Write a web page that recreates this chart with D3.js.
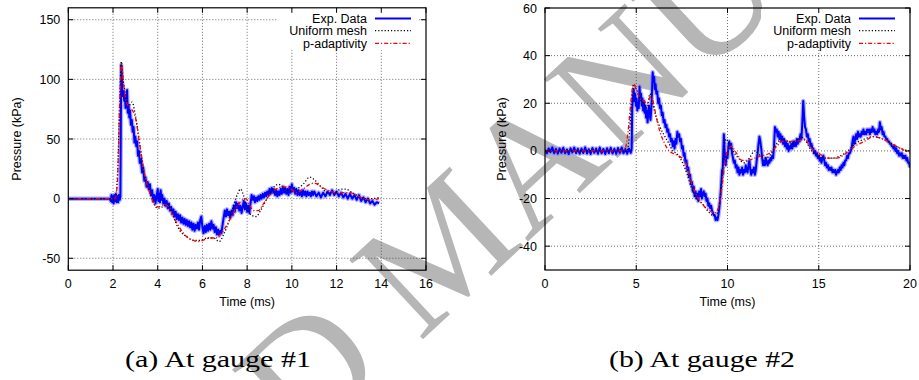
<!DOCTYPE html>
<html>
<head>
<meta charset="utf-8">
<script src="https://cdn.jsdelivr.net/npm/d3@7"></script>
<style>
  body { margin: 0; background: #fff; }
  svg { display: block; font-family: "Liberation Sans", Arial, Helvetica, sans-serif; }
</style>
</head>
<body>
<svg id="chart" width="919" height="380"></svg>
<script>
// ---- data (time ms, pressure kPa) ----
var seriesNames = ["Exp. Data", "Uniform mesh", "p-adaptivity"];
var captions = ["(a) At gauge #1", "(b) At gauge #2"];

var g1XTicks = [0, 2, 4, 6, 8, 10, 12, 14, 16];
var g1YTicks = [-50, 0, 50, 100, 150];
var g2XTicks = [0, 5, 10, 15, 20];
var g2YTicks = [-40, -20, 0, 20, 40, 60];

var g1Exp = [[0,0],[1.85,0],[1.9,-2],[1.93,3],[1.96,-3],[2.0,2],[2.03,-4],[2.06,3],[2.1,-2],[2.13,4],[2.16,-3],[2.2,2],[2.23,-3],[2.26,3],[2.3,-1],[2.33,2],[2.35,60],[2.37,112],[2.39,105],[2.41,92],[2.44,86],[2.47,90],[2.5,82],[2.53,87],[2.56,76],[2.6,82],[2.63,91],[2.66,72],[2.7,78],[2.73,68],[2.76,74],[2.8,62],[2.84,66],[2.88,56],[2.92,60],[2.96,47],[3.0,52],[3.04,44],[3.08,48],[3.12,36],[3.16,40],[3.2,30],[3.25,33],[3.3,22],[3.35,26],[3.4,15],[3.45,18],[3.5,10],[3.55,14],[3.6,8],[3.65,12],[3.7,3],[3.75,7],[3.8,-2],[3.85,3],[3.9,-4],[3.95,2],[4.0,8],[4.03,-2],[4.07,4],[4.1,-3],[4.13,7],[4.17,-1],[4.2,3],[4.25,-4],[4.3,0],[4.35,-6],[4.4,-2],[4.45,-8],[4.5,-4],[4.55,-10],[4.6,-7],[4.65,-13],[4.7,-9],[4.75,-15],[4.8,-11],[4.85,-17],[4.9,-13],[4.95,-18],[5.0,-14],[5.05,-20],[5.1,-16],[5.15,-21],[5.2,-17],[5.25,-22],[5.3,-18],[5.35,-23],[5.4,-19],[5.45,-24],[5.5,-20],[5.55,-26],[5.6,-21],[5.65,-27],[5.7,-22],[5.75,-25],[5.8,-20],[5.85,-26],[5.9,-18],[5.95,-15],[6.0,-24],[6.05,-29],[6.1,-23],[6.15,-28],[6.2,-22],[6.25,-27],[6.3,-21],[6.35,-26],[6.4,-19],[6.45,-25],[6.5,-22],[6.55,-28],[6.6,-24],[6.65,-30],[6.7,-26],[6.75,-31],[6.8,-27],[6.85,-29],[6.9,-22],[6.95,-16],[7.0,-10],[7.05,-15],[7.1,-9],[7.15,-14],[7.2,-11],[7.25,-16],[7.3,-10],[7.35,-14],[7.4,-6],[7.45,-11],[7.5,-3],[7.55,-8],[7.6,-4],[7.65,-10],[7.7,-6],[7.75,-12],[7.8,-7],[7.85,-2],[7.9,-9],[7.95,-4],[8.0,-11],[8.05,-6],[8.1,-12],[8.15,-4],[8.2,3],[8.25,-1],[8.3,2],[8.35,-3],[8.4,1],[8.45,-2],[8.5,2],[8.55,-1],[8.6,3],[8.65,0],[8.7,4],[8.75,1],[8.8,5],[8.85,2],[8.9,6],[8.95,3],[9.0,8],[9.05,4],[9.1,9],[9.15,5],[9.2,8],[9.25,3],[9.3,7],[9.35,2],[9.4,6],[9.45,3],[9.5,8],[9.55,4],[9.6,10],[9.65,5],[9.7,9],[9.75,4],[9.8,8],[9.85,3],[9.9,10],[9.95,5],[10.0,12],[10.05,6],[10.1,9],[10.15,4],[10.2,8],[10.25,3],[10.3,7],[10.35,3],[10.4,6],[10.45,2],[10.5,7],[10.55,3],[10.6,6],[10.65,2],[10.7,6],[10.75,3],[10.8,5],[10.85,2],[10.9,6],[10.95,3],[11.0,6],[11.1,2],[11.2,5],[11.3,1],[11.4,5],[11.5,2],[11.6,6],[11.7,3],[11.8,7],[11.9,3],[12.0,6],[12.1,2],[12.2,5],[12.3,1],[12.4,4],[12.5,0],[12.6,4],[12.7,0],[12.8,3],[12.9,-1],[13.0,3],[13.1,-2],[13.2,1],[13.3,-3],[13.4,0],[13.5,-4],[13.6,-2],[13.7,-5],[13.8,-3],[13.9,-4]];

var g1Uniform = [[0,0],[2.1,0],[2.2,20],[2.3,80],[2.37,115],[2.45,100],[2.55,88],[2.7,78],[2.85,81],[3.0,70],[3.2,45],[3.4,20],[3.55,10],[3.7,3],[3.85,-5],[4.0,-8],[4.2,-7],[4.4,-5],[4.6,-10],[4.8,-20],[5.0,-27],[5.3,-32],[5.6,-35],[5.9,-35],[6.2,-33],[6.5,-33],[6.75,-36],[6.95,-30],[7.2,-18],[7.4,-5],[7.6,5],[7.7,8],[7.85,2],[8.0,-8],[8.2,-14],[8.4,-15],[8.6,-10],[8.8,-3],[9.0,3],[9.2,10],[9.4,12],[9.6,10],[9.8,7],[10.0,6],[10.2,8],[10.5,12],[10.8,18],[11.0,16],[11.3,10],[11.6,5],[11.9,5],[12.2,8],[12.4,8],[12.7,5],[13.0,2],[13.3,0],[13.6,0],[13.9,1]];

var g1Padapt = [[0,0],[2.1,0],[2.2,15],[2.3,80],[2.38,113],[2.45,100],[2.55,85],[2.7,77],[2.9,73],[3.0,68],[3.2,45],[3.4,22],[3.55,10],[3.7,2],[3.85,-5],[4.0,-7],[4.3,-5],[4.5,-7],[4.7,-15],[5.0,-25],[5.3,-32],[5.6,-35],[5.8,-36],[6.0,-35],[6.3,-33],[6.6,-33],[6.8,-30],[7.0,-25],[7.3,-15],[7.6,-5],[7.8,-1],[7.95,0],[8.1,-5],[8.3,-10],[8.5,-10],[8.7,-5],[9.0,3],[9.3,8],[9.6,10],[9.9,9],[10.2,5],[10.5,8],[10.8,12],[11.0,13],[11.3,10],[11.6,7],[12.0,5],[12.3,5],[12.6,5],[12.9,3],[13.2,0],[13.5,-1],[13.9,0]];

var g2Exp = [[0,0.5],[0.1,-1],[0.2,1],[0.3,-0.5],[0.4,1.5],[0.5,-1],[0.6,0.8],[0.7,-1.2],[0.8,1],[0.9,-0.8],[1.0,1.3],[1.1,-1],[1.2,0.6],[1.3,-1.3],[1.4,1.1],[1.5,-0.7],[1.6,1.4],[1.7,-1],[1.8,0.9],[1.9,-1.2],[2.0,1],[2.1,-0.9],[2.2,1.5],[2.3,-1.1],[2.4,0.7],[2.5,-1.3],[2.6,1.2],[2.7,-0.8],[2.8,1],[2.9,-1.2],[3.0,1.4],[3.1,-1],[3.2,0.8],[3.3,-1.3],[3.4,1.1],[3.5,-0.9],[3.6,1.3],[3.7,-1.1],[3.8,0.9],[3.9,-1.2],[4.0,1.2],[4.1,-0.8],[4.2,1.4],[4.3,-1],[4.4,0.8],[4.5,-1.2],[4.6,1],[4.7,-0.8],[4.75,1],[4.78,18],[4.82,22],[4.86,26],[4.9,21],[4.94,24],[4.98,19],[5.02,22],[5.06,17],[5.1,20],[5.14,18],[5.18,27],[5.22,22],[5.26,24],[5.3,19],[5.34,22],[5.38,17],[5.42,21],[5.46,16],[5.5,19],[5.54,14],[5.58,17],[5.62,12],[5.66,16],[5.7,19],[5.74,15],[5.78,13],[5.82,17],[5.86,24],[5.9,33],[5.94,29],[5.98,31],[6.02,26],[6.06,28],[6.1,24],[6.15,25],[6.2,20],[6.25,22],[6.3,18],[6.35,19],[6.4,15],[6.45,16],[6.5,12],[6.55,13],[6.6,10],[6.65,11],[6.7,8],[6.75,9],[6.8,6],[6.85,7],[6.9,4],[6.95,5],[7.0,2],[7.05,4],[7.1,1],[7.15,5],[7.2,3],[7.25,8],[7.3,6],[7.35,7],[7.4,4],[7.45,5],[7.5,1],[7.55,2],[7.6,-2],[7.65,-1],[7.7,-5],[7.75,-4],[7.8,-8],[7.85,-7],[7.9,-11],[7.95,-10],[8.0,-14],[8.05,-13],[8.1,-17],[8.15,-15],[8.2,-19],[8.25,-17],[8.3,-20],[8.35,-18],[8.4,-21],[8.45,-17],[8.5,-19],[8.55,-16],[8.6,-20],[8.65,-18],[8.7,-17],[8.75,-19],[8.8,-18],[8.85,-21],[8.9,-20],[8.95,-23],[9.0,-22],[9.05,-24],[9.1,-23],[9.15,-25],[9.2,-26],[9.25,-27],[9.3,-27],[9.35,-29],[9.4,-28],[9.45,-29],[9.5,-27],[9.55,-24],[9.6,-20],[9.65,-15],[9.7,-8],[9.73,-10],[9.77,0],[9.8,7],[9.83,2],[9.86,-3],[9.9,-6],[9.95,-1],[10.0,-3],[10.05,2],[10.1,4],[10.15,1],[10.2,3],[10.25,-1],[10.3,-3],[10.35,-5],[10.4,-4],[10.45,-7],[10.5,-6],[10.55,-9],[10.6,-7],[10.65,-10],[10.7,-8],[10.75,-9],[10.8,-7],[10.85,-10],[10.9,-8],[10.95,-9],[11.0,-6],[11.05,-8],[11.1,-9],[11.15,-6],[11.2,-4],[11.25,-8],[11.3,-10],[11.35,-8],[11.4,-9],[11.45,-7],[11.5,-10],[11.55,-8],[11.6,-4],[11.65,-1],[11.7,3],[11.75,6],[11.8,4],[11.85,1],[11.9,-3],[11.95,-6],[12.0,-4],[12.05,-6],[12.1,-3],[12.15,-5],[12.2,-6],[12.25,-4],[12.3,-5],[12.35,-3],[12.4,-4],[12.45,-2],[12.5,-3],[12.55,2],[12.6,10],[12.65,8],[12.7,9],[12.75,6],[12.8,8],[12.85,5],[12.9,7],[12.95,4],[13.0,6],[13.05,3],[13.1,5],[13.15,2],[13.2,4],[13.25,1],[13.3,3],[13.35,0],[13.4,2],[13.45,1],[13.5,3],[13.55,1],[13.6,4],[13.65,2],[13.7,4],[13.75,2],[13.8,5],[13.85,3],[13.9,5],[13.95,4],[14.0,7],[14.05,5],[14.1,12],[14.15,21],[14.2,14],[14.25,10],[14.3,9],[14.35,6],[14.4,7],[14.45,4],[14.5,5],[14.55,2],[14.6,3],[14.65,1],[14.7,1],[14.75,-1],[14.8,0],[14.85,-2],[14.9,-1],[14.95,-3],[15.0,-2],[15.05,-4],[15.1,-3],[15.15,-5],[15.2,-3],[15.25,-2],[15.3,-4],[15.35,-6],[15.4,-5],[15.45,-7],[15.5,-6],[15.55,-8],[15.6,-7],[15.65,-8],[15.7,-7],[15.75,-9],[15.8,-8],[15.85,-9],[15.9,-8],[15.95,-10],[16.0,-9],[16.05,-8],[16.1,-9],[16.15,-7],[16.2,-8],[16.25,-6],[16.3,-7],[16.35,-5],[16.4,-6],[16.45,-4],[16.5,-4],[16.55,-2],[16.6,-3],[16.65,-1],[16.7,-1],[16.75,0],[16.8,1],[16.85,4],[16.9,6],[16.95,3],[17.0,5],[17.05,7],[17.1,5],[17.15,8],[17.2,6],[17.25,7],[17.3,6],[17.35,8],[17.4,7],[17.45,9],[17.5,7],[17.55,8],[17.6,7],[17.65,9],[17.7,8],[17.75,9],[17.8,7],[17.85,9],[17.9,8],[17.95,10],[18.0,8],[18.05,9],[18.1,7],[18.15,8],[18.2,7],[18.25,9],[18.3,8],[18.35,12],[18.4,9],[18.45,10],[18.5,7],[18.55,8],[18.6,6],[18.65,6],[18.7,5],[18.75,5],[18.8,4],[18.85,4],[18.9,3],[18.95,3],[19.0,2],[19.05,2],[19.1,1],[19.15,2],[19.2,0],[19.25,1],[19.3,-1],[19.35,0],[19.4,-2],[19.45,-1],[19.5,-2],[19.55,-1],[19.6,-3],[19.65,-2],[19.7,-3],[19.75,-2],[19.8,-4],[19.85,-3],[19.9,-5],[19.95,-5],[20.0,-7]];

var g2Uniform = [[0,0],[4.5,0],[4.6,5],[4.75,20],[4.85,28],[5.0,26],[5.2,22],[5.4,20],[5.6,18],[5.75,24],[5.9,20],[6.1,14],[6.3,10],[6.5,7],[6.8,3],[7.0,0],[7.2,-1],[7.4,-3],[7.6,-6],[7.8,-10],[8.0,-15],[8.3,-20],[8.6,-22],[8.9,-25],[9.2,-27],[9.45,-26],[9.6,-20],[9.75,-5],[9.9,5],[10.1,3],[10.3,0],[10.6,-3],[10.9,-5],[11.2,-3],[11.5,0],[11.8,-2],[12.1,-3],[12.4,-1],[12.7,3],[13.0,5],[13.3,4],[13.6,3],[14.0,6],[14.3,4],[14.6,0],[15.0,-2],[15.4,-3],[15.8,-3],[16.2,-2],[16.6,0],[17.0,3],[17.5,5],[18.0,6],[18.5,5],[19.0,3],[19.5,1],[20.0,0]];

var g2Padapt = [[0,0],[4.3,0],[4.4,1],[4.55,8],[4.7,20],[4.85,28],[5.0,26],[5.2,22],[5.4,21],[5.6,20],[5.8,23],[5.95,20],[6.1,14],[6.3,8],[6.5,4],[6.8,0],[7.0,-1],[7.3,-2],[7.5,-3],[7.7,-5],[7.9,-10],[8.1,-15],[8.4,-20],[8.7,-23],[9.0,-25],[9.3,-26],[9.5,-24],[9.7,-15],[9.85,-5],[10.0,0],[10.2,2],[10.5,-1],[10.8,-4],[11.1,-4],[11.5,-3],[11.9,-2],[12.3,-1],[12.7,2],[13.0,4],[13.4,4],[13.8,4],[14.2,5],[14.6,1],[15.0,-1],[15.5,-3],[16.0,-3],[16.5,-1],[17.0,2],[17.5,4],[18.0,6],[18.5,5],[19.0,3],[19.5,1],[20.0,-1]];

var svg = d3.select("#chart");

// watermark, under everything
var wm = svg.append("g")
  .attr("transform", "translate(436,252) rotate(-43)");
wm.append("text")
  .attr("x", 11)
  .attr("y", 55)
  .attr("text-anchor", "middle")
  .style("font-family", "'Liberation Serif', 'Times New Roman', serif")
  .style("font-size", "165px")
  .attr("fill", "#b6b6b6")
  .text("ACCEPTED MANUSCRIPT");

var styles = [
  {color: "#0000ff", width: 2, dash: null},
  {color: "#000000", width: 1.3, dash: "1.2,2"},
  {color: "#ff0000", width: 1.3, dash: "4,2,1.2,2"}
];

function drawPanel(p) {
  var x = d3.scaleLinear().domain(p.xDomain).range([p.left, p.right]);
  var y = d3.scaleLinear().domain(p.yDomain).range([p.bottom, p.top]);
  var g = svg.append("g");

  // grid
  g.selectAll(".vgrid")
    .data(p.xTicks.filter(function(t) { return t > p.xDomain[0] && t < p.xDomain[1]; }))
    .enter().append("line")
    .attr("x1", function(d) { return x(d); }).attr("x2", function(d) { return x(d); })
    .attr("y1", p.top).attr("y2", p.bottom)
    .attr("stroke", "#444").attr("stroke-width", 0.8).attr("stroke-dasharray", "1,2");
  g.selectAll(".hgrid")
    .data(p.yTicks.filter(function(t) { return t > p.yDomain[0] && t < p.yDomain[1]; }))
    .enter().append("line")
    .attr("y1", function(d) { return y(d); }).attr("y2", function(d) { return y(d); })
    .attr("x1", p.left).attr("x2", p.right)
    .attr("stroke", "#444").attr("stroke-width", 0.8).attr("stroke-dasharray", "1,2");

  // key area is opaque in gnuplot
  g.append("rect")
    .attr("x", p.right - 149).attr("y", p.top + 1)
    .attr("width", 141).attr("height", 41)
    .attr("fill", "#fff");

  // curves
  var clipId = "clip" + p.id;
  svg.append("clipPath").attr("id", clipId).append("rect")
    .attr("x", p.left).attr("y", p.top)
    .attr("width", p.right - p.left).attr("height", p.bottom - p.top);
  var curves = g.append("g").attr("clip-path", "url(#" + clipId + ")");

  var rough = d3.line().x(function(d) { return x(d[0]); }).y(function(d) { return y(d[1]); });
  var smooth = d3.line().curve(d3.curveMonotoneX)
    .x(function(d) { return x(d[0]); }).y(function(d) { return y(d[1]); });

  // noise band halo under the measured signal
  curves.append("path").attr("d", rough(p.series[0]))
    .attr("fill", "none").attr("stroke", "#7f7fff").attr("stroke-width", 4.5)
    .attr("stroke-linejoin", "round").attr("opacity", 0.6);
  curves.append("path").attr("d", rough(p.series[0]))
    .attr("fill", "none").attr("stroke", styles[0].color).attr("stroke-width", styles[0].width)
    .attr("stroke-linejoin", "round");
  [1, 2].forEach(function(i) {
    curves.append("path").attr("d", smooth(p.series[i]))
      .attr("fill", "none").attr("stroke", styles[i].color)
      .attr("stroke-width", styles[i].width)
      .attr("stroke-dasharray", styles[i].dash);
  });

  // border + inward ticks on all sides
  g.append("rect")
    .attr("x", p.left).attr("y", p.top)
    .attr("width", p.right - p.left).attr("height", p.bottom - p.top)
    .attr("fill", "none").attr("stroke", "#000").attr("stroke-width", 1.2);
  var tl = 5;
  p.xTicks.forEach(function(t) {
    g.append("line").attr("x1", x(t)).attr("x2", x(t)).attr("y1", p.bottom).attr("y2", p.bottom - tl)
      .attr("stroke", "#000").attr("stroke-width", 1);
    g.append("line").attr("x1", x(t)).attr("x2", x(t)).attr("y1", p.top).attr("y2", p.top + tl)
      .attr("stroke", "#000").attr("stroke-width", 1);
  });
  p.yTicks.forEach(function(t) {
    g.append("line").attr("y1", y(t)).attr("y2", y(t)).attr("x1", p.left).attr("x2", p.left + tl)
      .attr("stroke", "#000").attr("stroke-width", 1);
    g.append("line").attr("y1", y(t)).attr("y2", y(t)).attr("x1", p.right).attr("x2", p.right - tl)
      .attr("stroke", "#000").attr("stroke-width", 1);
  });

  // tick labels
  g.selectAll(".xl").data(p.xTicks).enter().append("text")
    .attr("x", function(d) { return x(d); }).attr("y", p.bottom + 17.5)
    .attr("text-anchor", "middle").style("font-size", "12.5px")
    .text(function(d) { return d; });
  g.selectAll(".yl").data(p.yTicks).enter().append("text")
    .attr("x", p.left - 8).attr("y", function(d) { return y(d) + 4.5; })
    .attr("text-anchor", "end").style("font-size", "12.5px")
    .text(function(d) { return d; });

  // axis titles
  g.append("text")
    .attr("x", (p.left + p.right) / 2).attr("y", p.bottom + 36)
    .attr("text-anchor", "middle").style("font-size", "12.5px")
    .text("Time (ms)");
  g.append("text")
    .attr("transform", "translate(" + p.yLabelX + "," + ((p.top + p.bottom) / 2) + ") rotate(-90)")
    .attr("text-anchor", "middle").style("font-size", "12.5px")
    .text("Pressure (kPa)");

  // legend
  var rows = [18.5, 30.7, 43.3];
  seriesNames.forEach(function(name, i) {
    g.append("text")
      .attr("x", p.right - 59).attr("y", rows[i] + 4.5)
      .attr("text-anchor", "end").style("font-size", "12.5px")
      .text(name);
    g.append("line")
      .attr("x1", p.right - 51).attr("x2", p.right - 15)
      .attr("y1", rows[i]).attr("y2", rows[i])
      .attr("stroke", styles[i].color).attr("stroke-width", styles[i].width)
      .attr("stroke-dasharray", styles[i].dash);
  });

  // caption
  svg.append("text")
    .attr("x", p.capX).attr("y", 367)
    .attr("text-anchor", "middle")
    .attr("textLength", 186).attr("lengthAdjust", "spacingAndGlyphs")
    .style("font-family", "'Liberation Serif', 'Times New Roman', serif")
    .style("font-size", "24px")
    .text(p.caption);
}

drawPanel({
  id: 1, left: 68.3, right: 426, top: 7.8, bottom: 270.2,
  xDomain: [0, 16], yDomain: [-60, 160],
  xTicks: g1XTicks, yTicks: g1YTicks,
  series: [g1Exp, g1Uniform, g1Padapt],
  yLabelX: 21, capX: 218, caption: captions[0]
});
drawPanel({
  id: 2, left: 545, right: 910, top: 8, bottom: 270,
  xDomain: [0, 20], yDomain: [-50, 60],
  xTicks: g2XTicks, yTicks: g2YTicks,
  series: [g2Exp, g2Uniform, g2Padapt],
  yLabelX: 506, capX: 702, caption: captions[1]
});
</script>
</body>
</html>
